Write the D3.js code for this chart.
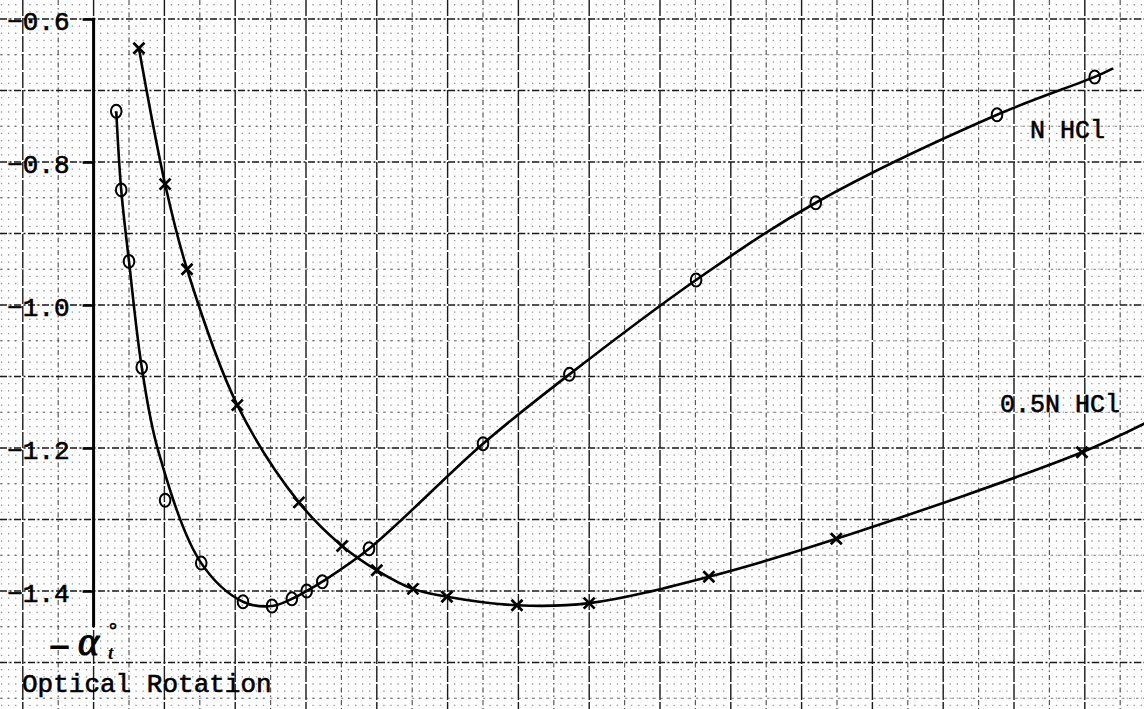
<!DOCTYPE html>
<html>
<head>
<meta charset="utf-8">
<script src="https://cdn.jsdelivr.net/npm/d3@7"></script>
<style>
  html, body { margin: 0; padding: 0; background: #fff; }
  svg { display: block; }
</style>
</head>
<body>
<svg id="chart" width="1144" height="709"></svg>
<script>
// ---- data: time in grid units along the sheet, rotation as -alpha (degrees) ----
const nHclTime = [0.32, 0.39, 0.50, 0.68, 1.01, 1.52, 2.11, 2.52, 2.80, 3.01, 3.23, 3.89, 5.50, 6.72, 8.51, 10.20, 12.76, 14.14];
const nHclRotation = [-0.729, -0.839, -0.939, -1.087, -1.273, -1.361, -1.415, -1.421, -1.411, -1.400, -1.387, -1.341, -1.194, -1.097, -0.965, -0.857, -0.734, -0.681];

// hand-faired curve for N HCl (passes beside the stray reading at t≈1.0)
const nHclCurveTime = [0.32, 0.39, 0.50, 0.68, 0.91, 1.52, 2.11, 2.52, 2.80, 3.01, 3.23, 3.89, 5.50, 6.72, 8.51, 10.20, 12.76, 14.14, 14.40];
const nHclCurveRotation = [-0.729, -0.839, -0.939, -1.087, -1.203, -1.361, -1.415, -1.421, -1.411, -1.400, -1.387, -1.341, -1.194, -1.097, -0.965, -0.857, -0.734, -0.681, -0.669];

const halfNTime = [0.64, 1.01, 1.32, 2.03, 2.90, 3.51, 4.00, 4.51, 4.99, 5.98, 7.00, 8.69, 10.49, 13.96];
const halfNRotation = [-0.641, -0.831, -0.950, -1.140, -1.276, -1.337, -1.371, -1.397, -1.408, -1.420, -1.417, -1.380, -1.327, -1.206];

// hand-faired curve for 0.5N HCl, continued past the last reading
const halfNCurveTime = [0.64, 1.01, 1.32, 2.03, 2.90, 3.51, 4.00, 4.51, 4.99, 5.98, 7.00, 8.69, 10.49, 13.96, 14.90];
const halfNCurveRotation = [-0.641, -0.831, -0.950, -1.140, -1.276, -1.337, -1.371, -1.397, -1.408, -1.420, -1.417, -1.380, -1.327, -1.206, -1.163];

const yTickValues = [-0.6, -0.8, -1.0, -1.2, -1.4];
const seriesLabels = ["N HCl", "0.5N HCl"];
const axisTitle = "Optical Rotation";

// ---- scales ----
const W = 1144, H = 709;
const x = d3.scaleLinear().domain([-1, 15]).range([22.8, 22.8 + 70.8 * 16]);
const y = d3.scaleLinear().domain([-0.6, -1.4]).range([19, 591]);

const svg = d3.select("#chart");
svg.append("rect").attr("width", W).attr("height", H).attr("fill", "#fff");

const monoFont = "'Liberation Mono', 'DejaVu Sans Mono', monospace";

// ---- graph-paper grid ----
const grid = svg.append("g").attr("class", "grid");
const yTop = y.invert(0), yBot = y.invert(H);
const xLeft = x.invert(0), xRight = x.invert(W);

const r1 = v => Math.round(v * 1000) / 1000;
const minorX = d3.range(Math.ceil(xLeft * 10), Math.floor(xRight * 10) + 1).map(k => r1(k / 10));
const minorY = d3.range(Math.ceil(-yTop * 100), Math.floor(-yBot * 100) + 1).map(k => r1(-k / 100));

// minor rulings: faint dots at the 1-mm crossings
const firstMinorY = y(d3.max(minorY));
const stepY = y(-0.61) - y(-0.60);
grid.selectAll("line.minor-v").data(minorX.filter(v => Math.abs(v * 2 - Math.round(v * 2)) > 1e-6))
  .join("line").attr("class", "minor-v")
  .attr("x1", d => x(d)).attr("x2", d => x(d))
  .attr("y1", firstMinorY - 0.7).attr("y2", H)
  .attr("stroke", "#000").attr("stroke-width", 1.3).attr("stroke-opacity", 0.3)
  .attr("stroke-dasharray", `1.4 ${stepY - 1.4}`);

const stepX = x(0.1) - x(0);
const firstMinorX = x(d3.min(minorX));
grid.selectAll("line.minor-h").data(minorY.filter(v => Math.abs(v * 20 - Math.round(v * 20)) > 1e-6))
  .join("line").attr("class", "minor-h")
  .attr("x1", firstMinorX - 0.7).attr("x2", W)
  .attr("y1", d => y(d)).attr("y2", d => y(d))
  .attr("stroke", "#000").attr("stroke-width", 1.2).attr("stroke-opacity", 0.15)
  .attr("stroke-dasharray", `1.4 ${stepX - 1.4}`);

// half-cm rulings
const midX = d3.range(Math.ceil(xLeft), Math.floor(xRight) + 1).map(k => k + 0.5);
grid.selectAll("line.mid-v").data(midX).join("line").attr("class", "mid-v")
  .attr("x1", d => x(d)).attr("x2", d => x(d)).attr("y1", 0).attr("y2", H)
  .attr("stroke", "#222").attr("stroke-width", 1.2).attr("stroke-opacity", 0.75)
  .attr("stroke-dasharray", "5 3 1.5 3");

const midY = d3.range(Math.ceil(-yTop * 10), Math.floor(-yBot * 10) + 1).map(k => r1(-(k + 0.5) / 10));
grid.selectAll("line.mid-h").data(midY).join("line").attr("class", "mid-h")
  .attr("x1", 0).attr("x2", W).attr("y1", d => y(d)).attr("y2", d => y(d))
  .attr("stroke", "#222").attr("stroke-width", 1.2).attr("stroke-opacity", 0.6)
  .attr("stroke-dasharray", "2.5 4.6");

// cm rulings
const majorX = d3.range(Math.ceil(xLeft), Math.floor(xRight) + 1);
grid.selectAll("line.major-v").data(majorX).join("line").attr("class", "major-v")
  .attr("x1", d => x(d)).attr("x2", d => x(d)).attr("y1", 0).attr("y2", H)
  .attr("stroke", "#1a1a1a").attr("stroke-width", 1.4)
  .attr("stroke-dasharray", "16 2");

const majorY = d3.range(Math.ceil(-yTop * 10), Math.floor(-yBot * 10) + 1).map(k => r1(-k / 10));
grid.selectAll("line.major-h").data(majorY).join("line").attr("class", "major-h")
  .attr("x1", 0).attr("x2", W).attr("y1", d => y(d)).attr("y2", d => y(d))
  .attr("stroke", "#1a1a1a").attr("stroke-width", 1.4)
  .attr("stroke-dasharray", "7 2.5 2 2.5");

// ---- y axis ----
const axisG = svg.append("g").attr("transform", `translate(${x(0)},0)`)
  .call(d3.axisLeft(y).tickValues(yTickValues).tickSize(11).tickPadding(13)
    .tickSizeOuter(0).tickFormat(d3.format(".1f")));
axisG.select(".domain").remove();
axisG.selectAll(".tick line").attr("stroke", "#000").attr("stroke-width", 2.6);
axisG.selectAll(".tick text")
  .attr("font-family", monoFont)
  .attr("font-size", 26).attr("fill", "#000")
  .attr("stroke", "#000").attr("stroke-width", 0.6)
  .attr("dy", "0.4em");
axisG.append("line")
  .attr("x1", 0).attr("x2", 0).attr("y1", y(-0.6) - 1.3).attr("y2", 627)
  .attr("stroke", "#000").attr("stroke-width", 3);

// axis symbol: -alpha with degree and subscript t
const sym = svg.append("g");
sym.append("text").attr("x", 49).attr("y", 659)
  .attr("font-family", "'Liberation Sans', sans-serif").attr("font-size", 36)
  .attr("fill", "#000").attr("stroke", "#000").attr("stroke-width", 0.8).text("\u2212");
sym.append("text").attr("x", 78).attr("y", 655)
  .attr("font-family", "'Liberation Serif', serif").attr("font-style", "italic")
  .attr("font-size", 40).attr("fill", "#000").attr("stroke", "#000").attr("stroke-width", 1.2)
  .text("\u03b1");
sym.append("text").attr("x", 109).attr("y", 637)
  .attr("font-family", "'Liberation Serif', serif")
  .attr("font-size", 20).attr("fill", "#000").attr("stroke", "#000").attr("stroke-width", 0.6)
  .text("\u00b0");
sym.append("text").attr("x", 108).attr("y", 659)
  .attr("font-family", "'Liberation Serif', serif").attr("font-style", "italic").attr("font-weight", "bold")
  .attr("font-size", 19).attr("fill", "#000").text("t");

svg.append("text").attr("x", 22).attr("y", 692)
  .attr("font-family", monoFont)
  .attr("font-size", 26).attr("fill", "#000").attr("stroke", "#000").attr("stroke-width", 0.6)
  .text(axisTitle);

// ---- curves ----
const line = d3.line().x(d => x(d[0])).y(d => y(d[1])).curve(d3.curveCatmullRom.alpha(0.5));
svg.append("path").datum(d3.zip(nHclCurveTime, nHclCurveRotation))
  .attr("d", line).attr("fill", "none").attr("stroke", "#000").attr("stroke-width", 2.6);
svg.append("path").datum(d3.zip(halfNCurveTime, halfNCurveRotation))
  .attr("d", line).attr("fill", "none").attr("stroke", "#000").attr("stroke-width", 2.6);

// ---- markers ----
svg.append("g").selectAll("ellipse").data(d3.zip(nHclTime, nHclRotation)).join("ellipse")
  .attr("cx", d => x(d[0])).attr("cy", d => y(d[1]))
  .attr("rx", 5.3).attr("ry", 6.5)
  .attr("fill", "none").attr("stroke", "#000").attr("stroke-width", 2);

svg.append("g").selectAll("path").data(d3.zip(halfNTime, halfNRotation)).join("path")
  .attr("transform", d => `translate(${x(d[0])},${y(d[1])})`)
  .attr("d", "M-5.5,-5.5L5.5,5.5M-5.5,5.5L5.5,-5.5")
  .attr("stroke", "#000").attr("stroke-width", 2.7).attr("fill", "none");

// ---- series labels ----
svg.append("text").attr("x", 1030).attr("y", 138)
  .attr("font-family", monoFont)
  .attr("font-size", 25).attr("fill", "#000").attr("stroke", "#000").attr("stroke-width", 0.6)
  .text(seriesLabels[0]);
svg.append("text").attr("x", 1000).attr("y", 412)
  .attr("font-family", monoFont)
  .attr("font-size", 25).attr("fill", "#000").attr("stroke", "#000").attr("stroke-width", 0.6)
  .text(seriesLabels[1]);
</script>
</body>
</html>
